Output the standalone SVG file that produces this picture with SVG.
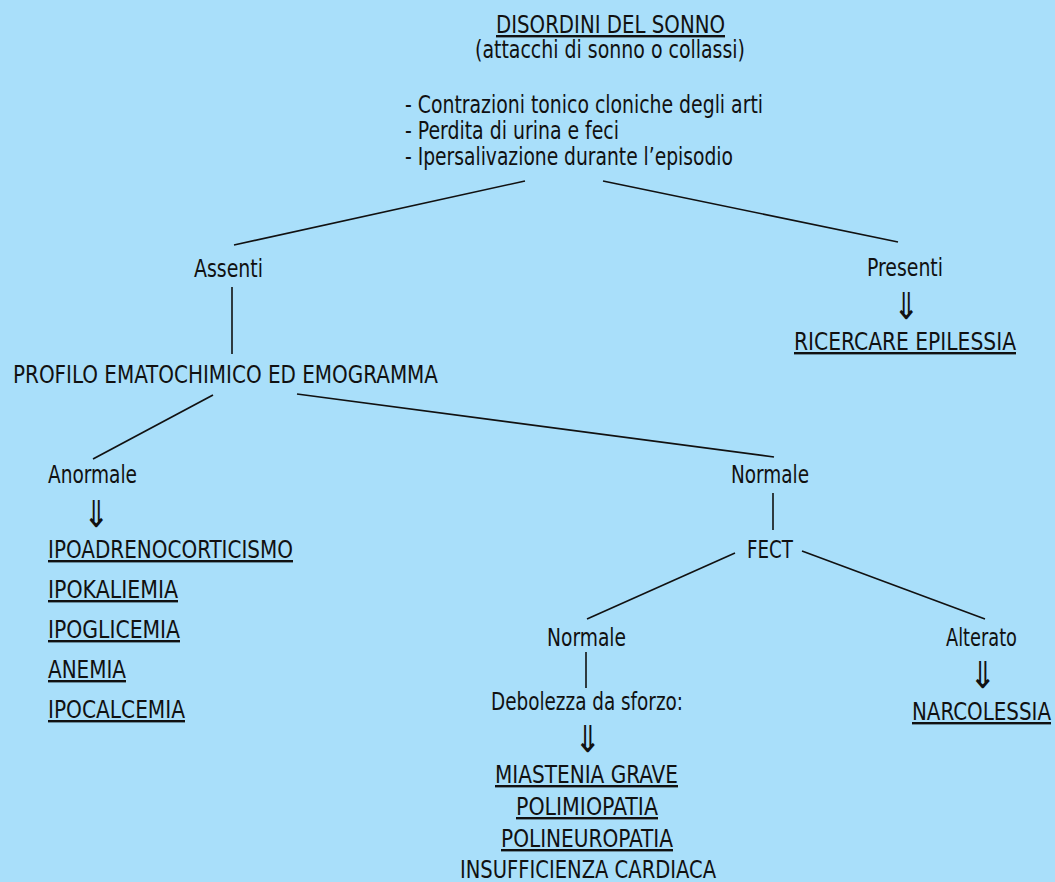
<svg xmlns="http://www.w3.org/2000/svg" width="1055" height="882" viewBox="0 0 1055 882">
<style>
text{font-family:"Liberation Sans Narrow","DejaVu Sans Condensed","Liberation Sans",sans-serif;font-size:24px;fill:#111;}
.u{text-decoration:underline;}
.arr{font-family:"DejaVu Sans",sans-serif;font-size:37px;}
.c line{stroke:#111;stroke-width:1.6;}
</style>
<rect width="1055" height="882" fill="#a9dffa"/>
<g class="c" id="connectors">
<line x1="525" y1="181" x2="234" y2="245"/>
<line x1="603" y1="181" x2="898" y2="242"/>
<line x1="232" y1="287" x2="232" y2="354"/>
<line x1="213" y1="395" x2="93" y2="459"/>
<line x1="297" y1="394" x2="774" y2="457"/>
<line x1="773" y1="493" x2="773" y2="530"/>
<line x1="735" y1="553" x2="587" y2="619"/>
<line x1="802" y1="551" x2="985" y2="619"/>
<line x1="586" y1="652" x2="586" y2="688"/>
</g>
<g id="root">
<text class="u" x="496" y="33" textLength="229" lengthAdjust="spacingAndGlyphs">DISORDINI DEL SONNO</text>
<text x="475" y="58" textLength="270" lengthAdjust="spacingAndGlyphs">(attacchi di sonno o collassi)</text>
</g>
<g id="symptoms">
<text x="405" y="113" textLength="358" lengthAdjust="spacingAndGlyphs">- Contrazioni tonico cloniche degli arti</text>
<text x="405" y="139" textLength="214" lengthAdjust="spacingAndGlyphs">- Perdita di urina e feci</text>
<text x="405" y="165" textLength="328" lengthAdjust="spacingAndGlyphs">- Ipersalivazione durante l’episodio</text>
</g>
<g id="assenti"><text x="194" y="277" textLength="69" lengthAdjust="spacingAndGlyphs">Assenti</text></g>
<g id="presenti">
<text x="867" y="276" textLength="76" lengthAdjust="spacingAndGlyphs">Presenti</text>
<text class="arr" x="893" y="319" textLength="26" lengthAdjust="spacingAndGlyphs">⇓</text>
<text class="u" x="794" y="350" textLength="222" lengthAdjust="spacingAndGlyphs">RICERCARE EPILESSIA</text>
</g>
<g id="profilo"><text x="13" y="383" textLength="425" lengthAdjust="spacingAndGlyphs">PROFILO EMATOCHIMICO ED EMOGRAMMA</text></g>
<g id="anormale">
<text x="48" y="483" textLength="89" lengthAdjust="spacingAndGlyphs">Anormale</text>
<text class="arr" x="83" y="527" textLength="26" lengthAdjust="spacingAndGlyphs">⇓</text>
<text class="u" x="48" y="558" textLength="245" lengthAdjust="spacingAndGlyphs">IPOADRENOCORTICISMO</text>
<text class="u" x="48" y="598" textLength="130" lengthAdjust="spacingAndGlyphs">IPOKALIEMIA</text>
<text class="u" x="48" y="638" textLength="132" lengthAdjust="spacingAndGlyphs">IPOGLICEMIA</text>
<text class="u" x="48" y="678" textLength="78" lengthAdjust="spacingAndGlyphs">ANEMIA</text>
<text class="u" x="48" y="718" textLength="137" lengthAdjust="spacingAndGlyphs">IPOCALCEMIA</text>
</g>
<g id="normale1"><text x="731" y="483" textLength="78" lengthAdjust="spacingAndGlyphs">Normale</text></g>
<g id="fect"><text x="747" y="558" textLength="46" lengthAdjust="spacingAndGlyphs">FECT</text></g>
<g id="normale2">
<text x="547" y="646" textLength="79" lengthAdjust="spacingAndGlyphs">Normale</text>
<text x="491" y="710" textLength="192" lengthAdjust="spacingAndGlyphs">Debolezza da sforzo:</text>
<text class="arr" x="574" y="752" textLength="27" lengthAdjust="spacingAndGlyphs">⇓</text>
<text class="u" x="495" y="783" textLength="183" lengthAdjust="spacingAndGlyphs">MIASTENIA GRAVE</text>
<text class="u" x="516" y="815" textLength="142" lengthAdjust="spacingAndGlyphs">POLIMIOPATIA</text>
<text class="u" x="501" y="847" textLength="172" lengthAdjust="spacingAndGlyphs">POLINEUROPATIA</text>
<text x="460" y="878" textLength="256" lengthAdjust="spacingAndGlyphs">INSUFFICIENZA CARDIACA</text>
</g>
<g id="alterato">
<text x="946" y="646" textLength="71" lengthAdjust="spacingAndGlyphs">Alterato</text>
<text class="arr" x="969" y="688" textLength="27" lengthAdjust="spacingAndGlyphs">⇓</text>
<text class="u" x="912" y="720" textLength="139" lengthAdjust="spacingAndGlyphs">NARCOLESSIA</text>
</g>
</svg>
